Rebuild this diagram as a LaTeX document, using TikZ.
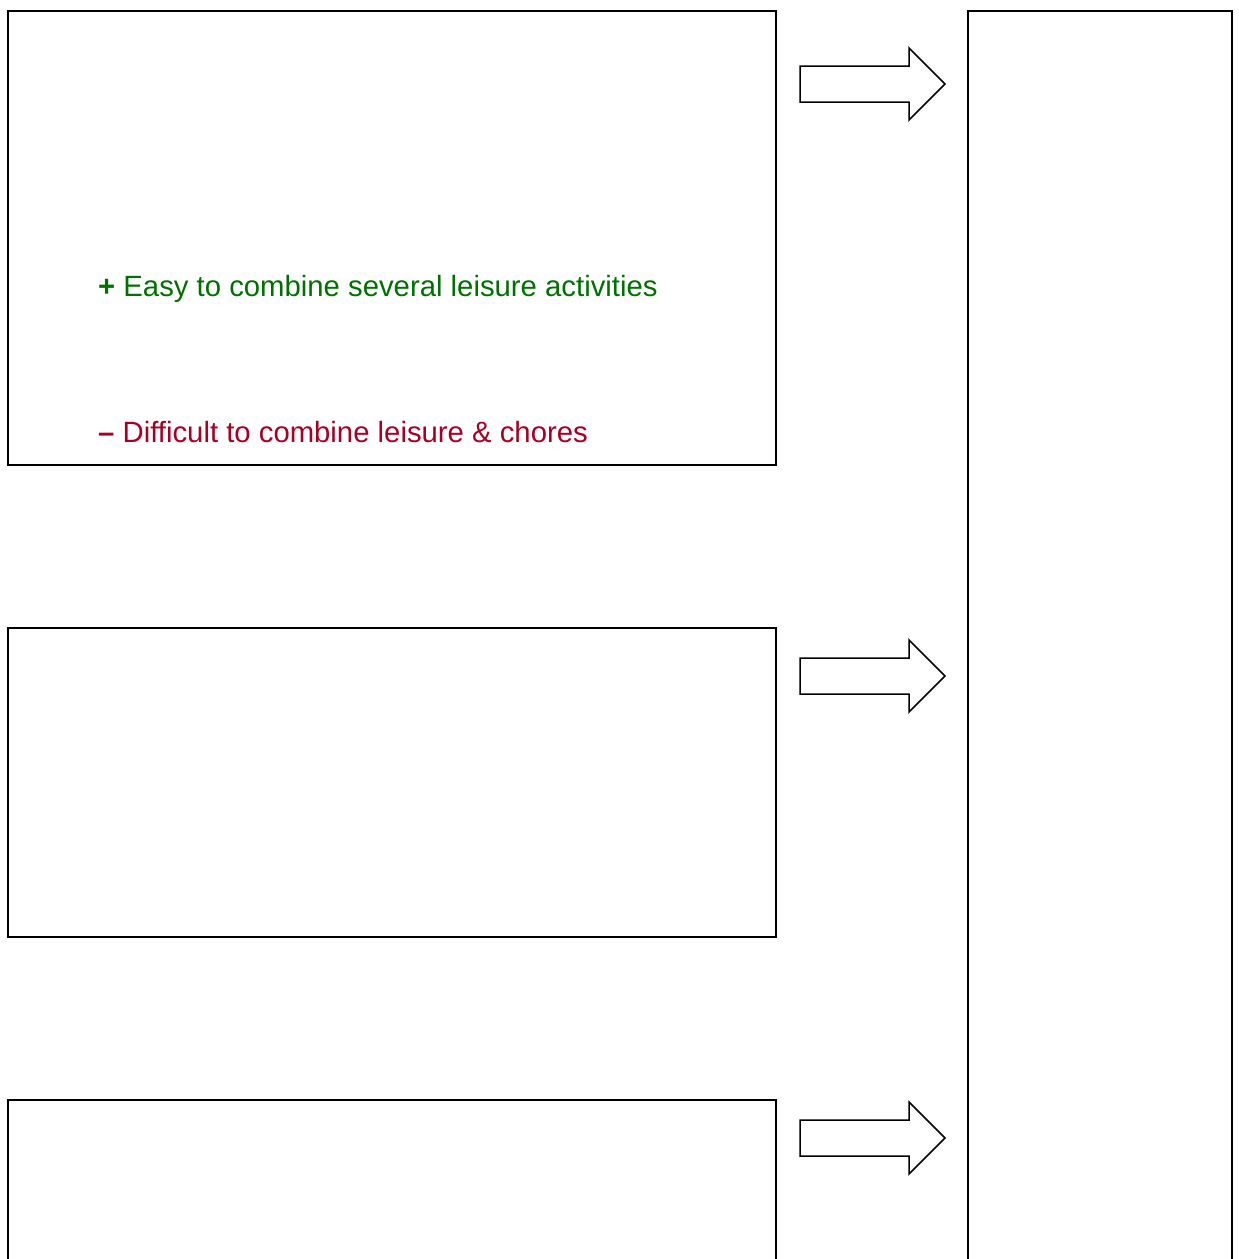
\documentclass[tikz,border=0pt]{standalone}
\usepackage{fontspec}
\setmainfont{Liberation Sans}
\usepackage{tikz}
\usetikzlibrary{positioning}

\definecolor{progreen}{RGB}{0,112,0}
\definecolor{conred}{RGB}{168,0,36}

\begin{document}
\begin{tikzpicture}[x=1pt,y=-1pt,
  panel/.style={draw,line width=2pt,inner sep=0pt,outer sep=0pt,anchor=north west},
  pro/.style={anchor=base west,inner sep=0pt,text=progreen},
  con/.style={anchor=base west,inner sep=0pt,text=conred},
  pics/fatarrow/.style={code={
    \draw[line width=1.5pt,line join=miter]
      (0,-18) -- (109,-18) -- (109,-36) -- (145,0) -- (109,36) -- (109,18) -- (0,18) -- cycle;}}]

\fontsize{29.3}{35}\selectfont

% Page frame
\clip (0,0) rectangle (1239,1259);

%Define panel sizes
\def\pw{768}     %width of left panels.
\def\sw{264}     %width of right column.

% Left panels and right column
\node[panel,minimum width=\pw pt,minimum height=454pt] (first) at (8,11) {};
\node[panel,minimum width=\pw pt,minimum height=309pt] (second) at (8,628) {};
\node[panel,minimum width=\pw pt,minimum height=200pt] (third) at (8,1100) {};
\node[panel,minimum width=\sw pt,minimum height=1300pt] (result) at (968,11) {};

% Pros and cons
\node[pro] (pro1) at (98,296) {{\bfseries +} Easy to combine several leisure activities};
\node[con] (con1) at (98,442) {{\bfseries –} Difficult to combine leisure \& chores};

% Block arrows into the right column
\pic at (800,84) {fatarrow};
\pic at (800,676) {fatarrow};
\pic at (800,1138) {fatarrow};

\end{tikzpicture}
\end{document}
